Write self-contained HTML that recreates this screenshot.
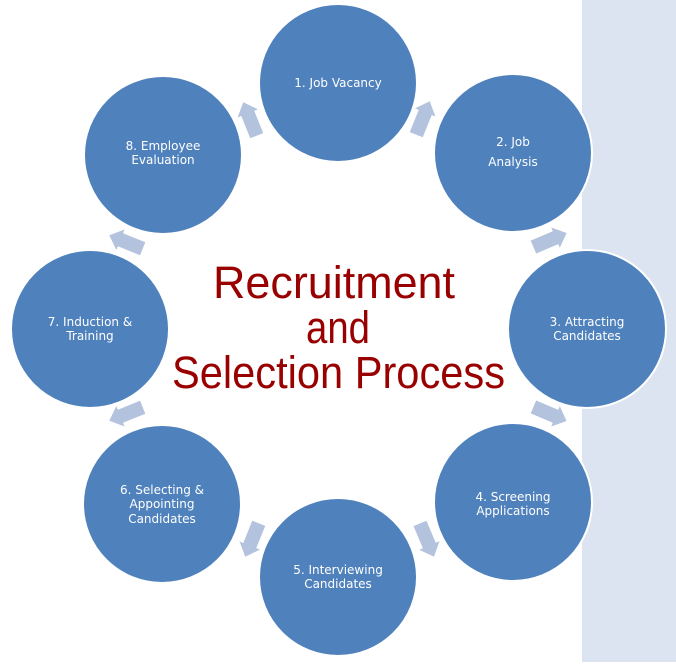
<!DOCTYPE html>
<html><head><style>
body{margin:0;width:676px;height:662px;overflow:hidden;background:#fff;}
</style></head><body>
<svg width="676" height="662" viewBox="0 0 676 662" xmlns="http://www.w3.org/2000/svg">
<rect x="582" y="0" width="94" height="662" fill="#dbe4f0"/>
<defs>
<polygon id="ar" points="-18,-7 6,-7 6,-11 18,0 6,11 6,7 -18,7" fill="#b3c3de"/>
</defs>
<use href="#ar" transform="translate(423,118) rotate(-68)"/>
<use href="#ar" transform="translate(550,240) rotate(-23)"/>
<use href="#ar" transform="translate(550,414) rotate(23)"/>
<use href="#ar" transform="translate(427,540) rotate(67)"/>
<use href="#ar" transform="translate(252,540) rotate(112)"/>
<use href="#ar" transform="translate(126,414) rotate(158)"/>
<use href="#ar" transform="translate(126,242) rotate(202)"/>
<use href="#ar" transform="translate(250,119) rotate(248)"/>
<g fill="#4f81bd" stroke="#fff" stroke-width="2">
<circle cx="338" cy="83" r="79"/>
<circle cx="513" cy="153" r="79"/>
<circle cx="587" cy="329" r="79"/>
<circle cx="513" cy="502" r="79"/>
<circle cx="338" cy="577" r="79"/>
<circle cx="162" cy="504" r="79"/>
<circle cx="90" cy="329" r="79"/>
<circle cx="163" cy="155" r="79"/>
</g>
<g fill="#fff" font-family="DejaVu Sans, sans-serif" font-size="12" text-anchor="middle">
<text x="338" y="87">1. Job Vacancy</text>
<text x="513" y="146">2. Job</text>
<text x="513" y="166">Analysis</text>
<text x="587" y="326">3. Attracting</text>
<text x="587" y="340">Candidates</text>
<text x="513" y="501">4. Screening</text>
<text x="513" y="515">Applications</text>
<text x="338" y="574">5. Interviewing</text>
<text x="338" y="588">Candidates</text>
<text x="162" y="494">6. Selecting &amp;</text>
<text x="162" y="508">Appointing</text>
<text x="162" y="523">Candidates</text>
<text x="163" y="150">8. Employee</text>
<text x="163" y="164">Evaluation</text>
<text x="90" y="326">7. Induction &amp;</text>
<text x="90" y="340">Training</text>
</g>
<g fill="#990000" font-family="Liberation Sans, sans-serif" font-size="45">
<text x="213" y="298" textLength="242" lengthAdjust="spacingAndGlyphs">Recruitment</text>
<text x="306" y="343" textLength="64" lengthAdjust="spacingAndGlyphs">and</text>
<text x="172" y="388" textLength="333" lengthAdjust="spacingAndGlyphs">Selection Process</text>
</g>
</svg>
</body></html>
